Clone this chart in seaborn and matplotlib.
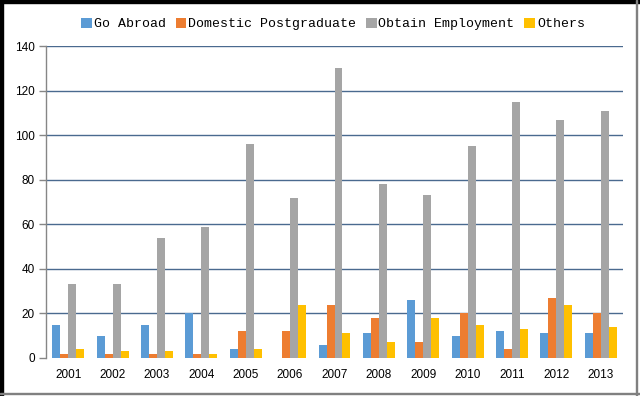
import pandas as pd
import seaborn as sns
import matplotlib.pyplot as plt
from matplotlib.patches import Patch, Rectangle

# dados
anos = ['2001', '2002', '2003', '2004', '2005', '2006', '2007',
        '2008', '2009', '2010', '2011', '2012', '2013']
go_abroad = [15, 10, 15, 20, 4, 0, 6, 11, 26, 10, 12, 11, 11]
domestic_pg = [2, 2, 2, 2, 12, 12, 24, 18, 7, 20, 4, 27, 20]
employment = [33, 33, 54, 59, 96, 72, 130, 78, 73, 95, 115, 107, 111]
others = [4, 3, 3, 2, 4, 24, 11, 7, 18, 15, 13, 24, 14]

series = ['Go Abroad', 'Domestic Postgraduate', 'Obtain Employment', 'Others']
cores = ['#5B9BD5', '#ED7D31', '#A5A5A5', '#FFC000']

df = pd.DataFrame({'ano': anos, series[0]: go_abroad, series[1]: domestic_pg,
                   series[2]: employment, series[3]: others})
df = df.melt(id_vars='ano', var_name='serie', value_name='valor')

sns.set_style('white')
plt.rcParams['font.family'] = ['Liberation Sans', 'DejaVu Sans']
plt.rcParams['text.color'] = 'black'
plt.rcParams['xtick.color'] = 'black'
plt.rcParams['ytick.color'] = 'black'

fig = plt.figure(figsize=(6.4, 3.96), dpi=100)
ax = fig.add_axes([46 / 640, 1 - 358 / 396, 577 / 640, 312 / 396])

sns.barplot(data=df, x='ano', y='valor', hue='serie', hue_order=series,
            palette=cores, width=0.72, gap=0, saturation=1, linewidth=0,
            edgecolor='none', ax=ax, legend=False)

# eixos
ax.set_ylim(0, 140)
ax.set_xlim(-0.5, len(anos) - 0.5)
ax.set_yticks(range(0, 141, 20))
ax.set_xlabel('')
ax.set_ylabel('')
for y in range(20, 141, 20):
    ax.axhline(y, color='#4A6A8F', lw=1, zorder=0)
ax.set_axisbelow(True)
for s in ['top', 'right', 'bottom']:
    ax.spines[s].set_visible(False)
ax.spines['left'].set_color('#868686')
ax.spines['left'].set_linewidth(1)
ax.tick_params(axis='y', length=5, width=1, color='#868686', labelcolor='black',
               pad=3, labelsize=8.5, left=True)
ax.tick_params(axis='x', length=0, pad=8, labelsize=8.5, labelcolor='black')

# legenda
handles = [Patch(facecolor=c, edgecolor='none') for c in cores]
fig.legend(handles, series, loc='center', bbox_to_anchor=(333 / 640, 1 - 24 / 396),
           ncol=4, frameon=False, handlelength=0.8, handleheight=0.8,
           handletextpad=0.15, columnspacing=0.75, borderaxespad=0,
           prop={'family': 'Liberation Mono', 'size': 9.5})

# moldura
fig.patches.append(Rectangle((0, 0), 2.5 / 640, 1, transform=fig.transFigure,
                             color='black', zorder=10))
fig.patches.append(Rectangle((0, 1 - 2.5 / 396), 1, 2.5 / 396, transform=fig.transFigure,
                             color='black', zorder=10))
fig.patches.append(Rectangle((636 / 640, 0), 1 / 640, 1, transform=fig.transFigure,
                             color='#808080', zorder=10))
fig.patches.append(Rectangle((0, 2 / 396), 1, 1 / 396, transform=fig.transFigure,
                             color='#808080', zorder=10))

fig.savefig('out.png', dpi=100)
